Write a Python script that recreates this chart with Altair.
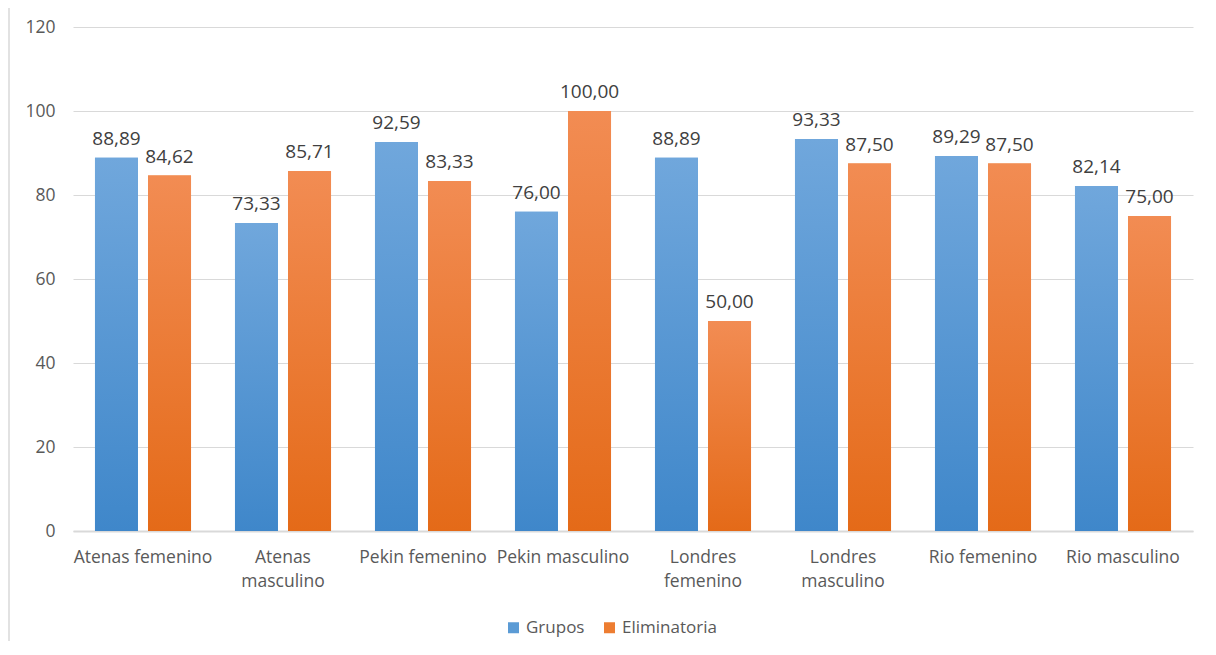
import altair as alt
import pandas as pd

categories = ["Atenas femenino", "Atenas masculino", "Pekin femenino", "Pekin masculino",
              "Londres femenino", "Londres masculino", "Rio femenino", "Rio masculino"]
grupos = [88.89, 73.33, 92.59, 76.00, 88.89, 93.33, 89.29, 82.14]
eliminatoria = [84.62, 85.71, 83.33, 100.00, 50.00, 87.50, 87.50, 75.00]
series = ["Grupos", "Eliminatoria"]
y_ticks = [0, 20, 40, 60, 80, 100, 120]

rows = []
for c, g, e in zip(categories, grupos, eliminatoria):
    rows.append({"cat": c, "serie": "Grupos", "val": g, "lbl": f"{g:.2f}".replace(".", ",")})
    rows.append({"cat": c, "serie": "Eliminatoria", "val": e, "lbl": f"{e:.2f}".replace(".", ",")})
df = pd.DataFrame(rows)

FONT = "Open Sans"
TXT = "#595959"

wrap_expr = ("indexof(['Atenas masculino','Londres femenino','Londres masculino'], datum.label) >= 0"
             " ? split(datum.label, ' ') : datum.label")

x_enc = alt.X("cat:N", sort=categories, title=None,
              scale=alt.Scale(paddingInner=0.314, paddingOuter=0.157),
              axis=alt.Axis(labelAngle=0, labelExpr=wrap_expr, labelFontSize=17.5, labelColor=TXT,
                            labelFont=FONT, labelPadding=17, labelLineHeight=24, ticks=False,
                            domainColor="#d9d9d9", domainWidth=2, labelBaseline="top"))
y_enc = alt.Y("val:Q", title=None,
              scale=alt.Scale(domain=[0, 120], nice=False),
              axis=alt.Axis(values=y_ticks, labelFontSize=17.5, labelColor=TXT, labelFont=FONT,
                            labelPadding=18, ticks=False, domain=False, gridColor="#d9d9d9",
                            gridWidth=1))
xoff = alt.XOffset("serie:N", sort=series, scale=alt.Scale(domain=series, paddingInner=0.19))

base = alt.Chart(df).encode(x=x_enc, y=y_enc, xOffset=xoff)

legend_bars = base.mark_bar().encode(
    color=alt.Color("serie:N", sort=series,
                    scale=alt.Scale(domain=series, range=["#5b9bd5", "#ed7d31"]),
                    legend=alt.Legend(title=None, orient="none", direction="horizontal",
                                      legendX=432, legendY=592,
                                      symbolType="square", symbolSize=121, labelFontSize=17,
                                      labelColor=TXT, labelFont=FONT, columnPadding=16,
                                      symbolStrokeWidth=0, labelOffset=4))
)

blue_grad = alt.Gradient(gradient="linear", x1=0, y1=0, x2=0, y2=1,
                         stops=[alt.GradientStop(color="#70a7dc", offset=0),
                                alt.GradientStop(color="#3f87ca", offset=1)])
orange_grad = alt.Gradient(gradient="linear", x1=0, y1=0, x2=0, y2=1,
                           stops=[alt.GradientStop(color="#f28c53", offset=0),
                                  alt.GradientStop(color="#e46a18", offset=1)])

bars_g = base.mark_bar(fill=blue_grad).transform_filter(alt.datum.serie == "Grupos")
bars_e = base.mark_bar(fill=orange_grad).transform_filter(alt.datum.serie == "Eliminatoria")

labels = base.mark_text(baseline="alphabetic", dy=-13, fontSize=19, font=FONT,
                        color="#404040").encode(text="lbl:N")

border = alt.Chart(pd.DataFrame({"k": [0]})).mark_rule(color="#d9d9d9", strokeWidth=1.5).encode(
    x=alt.value(-64), y=alt.value(-19), y2=alt.value(660))

chart = alt.layer(legend_bars, bars_g, bars_e, labels, border).properties(
    width=1120, height=504,
    autosize=alt.AutoSizeParams(type="none"),
    padding={"left": 65, "top": 19, "right": 15, "bottom": 110},
).configure_view(stroke=None)

chart.save("out.html", embed_options={"renderer": "svg", "actions": False})
